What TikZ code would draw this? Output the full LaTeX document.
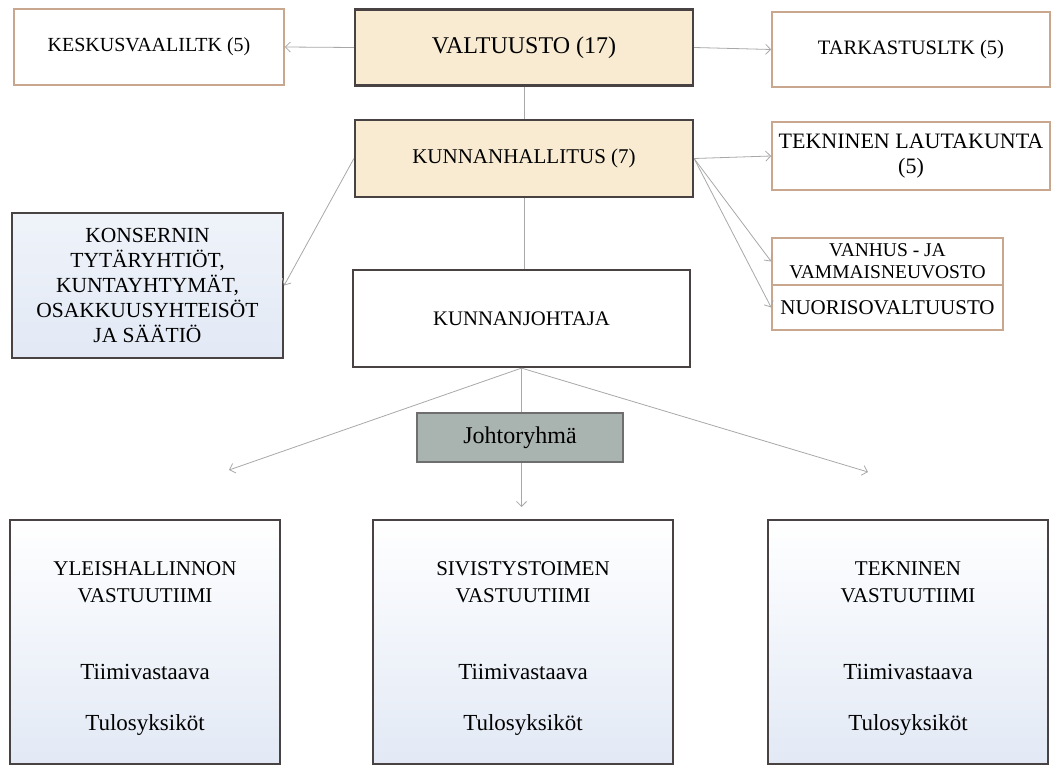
\documentclass[tikz,border=0pt]{standalone}
\usepackage{fontspec}
\setmainfont{Liberation Serif}
\usetikzlibrary{positioning,arrows.meta,calc}

\definecolor{beigefill}{HTML}{F8EBD2}
\definecolor{darkframe}{HTML}{484242}
\definecolor{tanframe}{HTML}{C9A68E}
\definecolor{paleblue}{HTML}{E2E9F5}
\definecolor{slatefill}{HTML}{A9B3B0}
\definecolor{slateframe}{HTML}{6E6E6E}
\definecolor{linegrey}{HTML}{A8A8A8}

\tikzset{
  council/.style={draw=darkframe,line width=2.2pt,fill=beigefill,minimum width=338pt,minimum height=76pt},
  board/.style={draw=tanframe,line width=1.6pt,fill=white},
  unit/.style={draw=darkframe,line width=2.2pt,top color=white,bottom color=paleblue},
  team/.style={unit,minimum height=244pt,font=\fontsize{21}{27}\selectfont},
  link/.style={draw=linegrey,line width=0.8pt},
  arrowlink/.style={link,-{Straight Barb[length=5pt,width=10pt]}}
}

\begin{document}
\begin{tikzpicture}[x=1pt,y=-1pt,every node/.style={align=center,inner sep=2pt}]
	\useasboundingbox (0,0) rectangle (1053,767);
	% top row
	\node[council,font=\fontsize{24}{28}\selectfont] (valt) at (524,47.5) {VALTUUSTO (17)};
	\node[board,minimum width=270pt,minimum height=76pt,font=\fontsize{20}{24}\selectfont] (kesk) at (149,47) {KESKUSVAALILTK (5)};
	\node[board,minimum width=278pt,minimum height=75pt,font=\fontsize{20.5}{24}\selectfont] (tark) at (911,49.5) {TARKASTUSLTK (5)};
	% board level
	\node[council,minimum height=77pt,font=\fontsize{21}{25}\selectfont] (khall) at (524,158.5) {KUNNANHALLITUS (7)};
	\node[board,minimum width=278pt,minimum height=68pt,font=\fontsize{22}{25}\selectfont] (tekla) at (911,156) {TEKNINEN LAUTAKUNTA\\(5)};
	\node[board,minimum width=231pt,minimum height=47pt,font=\fontsize{19.5}{22}\selectfont] (vanhus) at (887.5,261.5) {VANHUS - JA\\VAMMAISNEUVOSTO};
	\node[board,minimum width=231pt,minimum height=45pt,font=\fontsize{21}{24}\selectfont,below=-1.6pt of vanhus] (nuoriso) {NUORISOVALTUUSTO};
	\node[unit,top color=paleblue!55,minimum width=271pt,minimum height=145pt,font=\fontsize{21.5}{25}\selectfont] (kons) at (147.5,285.5) {KONSERNIN\\TYTÄRYHTIÖT,\\KUNTAYHTYMÄT,\\OSAKKUUSYHTEISÖT\\JA SÄÄTIÖ};
	\node[draw=darkframe,line width=2.2pt,fill=white,minimum width=337pt,minimum height=97pt,font=\fontsize{20.7}{24}\selectfont] (kjoht) at (521.5,318.5) {KUNNANJOHTAJA};
	\node[draw=slateframe,line width=1.6pt,fill=slatefill,minimum width=206pt,minimum height=49pt,font=\fontsize{24}{28}\selectfont] (joht) at (520,437.5) {Johtoryhmä};
	% teams
	\node[team,minimum width=270pt] (yleis) at (145,642) {\strut\\[-19pt]YLEISHALLINNON\\VASTUUTIIMI\\[50pt]{\fontsize{23}{27}\selectfont Tiimivastaava}\\[24pt]{\fontsize{23}{27}\selectfont Tulosyksiköt}};
	\node[team,minimum width=300pt] (sivis) at (523,642) {\strut\\[-19pt]SIVISTYSTOIMEN\\VASTUUTIIMI\\[50pt]{\fontsize{23}{27}\selectfont Tiimivastaava}\\[24pt]{\fontsize{23}{27}\selectfont Tulosyksiköt}};
	\node[team,minimum width=280pt] (tekvt) at (908,642) {\strut\\[-19pt]TEKNINEN\\VASTUUTIIMI\\[50pt]{\fontsize{23}{27}\selectfont Tiimivastaava}\\[24pt]{\fontsize{23}{27}\selectfont Tulosyksiköt}};
	\coordinate (toyleis) at (229,470);
	\coordinate (tosivis) at (521.5,507);
	\coordinate (totekvt) at (868,472);
	%
	\draw[arrowlink] (valt.west) -- (kesk.east);
	\draw[arrowlink] (valt.east) -- (tark.west);
	\draw[link] (valt.south) -- (khall.north);
	\draw[arrowlink] (khall.east) -- (tekla.west);
	\draw[arrowlink] (khall.east) -- (vanhus.west);
	\draw[arrowlink] (khall.east) -- (nuoriso.west);
	\draw[arrowlink] (khall.west) -- (kons.east);
	\draw[link] (khall.south) -- (khall.south |- kjoht.north);
	\draw[arrowlink] (kjoht.south) -- (toyleis);
	\draw[arrowlink] (kjoht.south) -- (totekvt);
	\draw[link] (kjoht.south) -- (kjoht.south |- joht.north);
	\draw[arrowlink] (kjoht.south |- joht.south) -- (tosivis);
\end{tikzpicture}
\end{document}
